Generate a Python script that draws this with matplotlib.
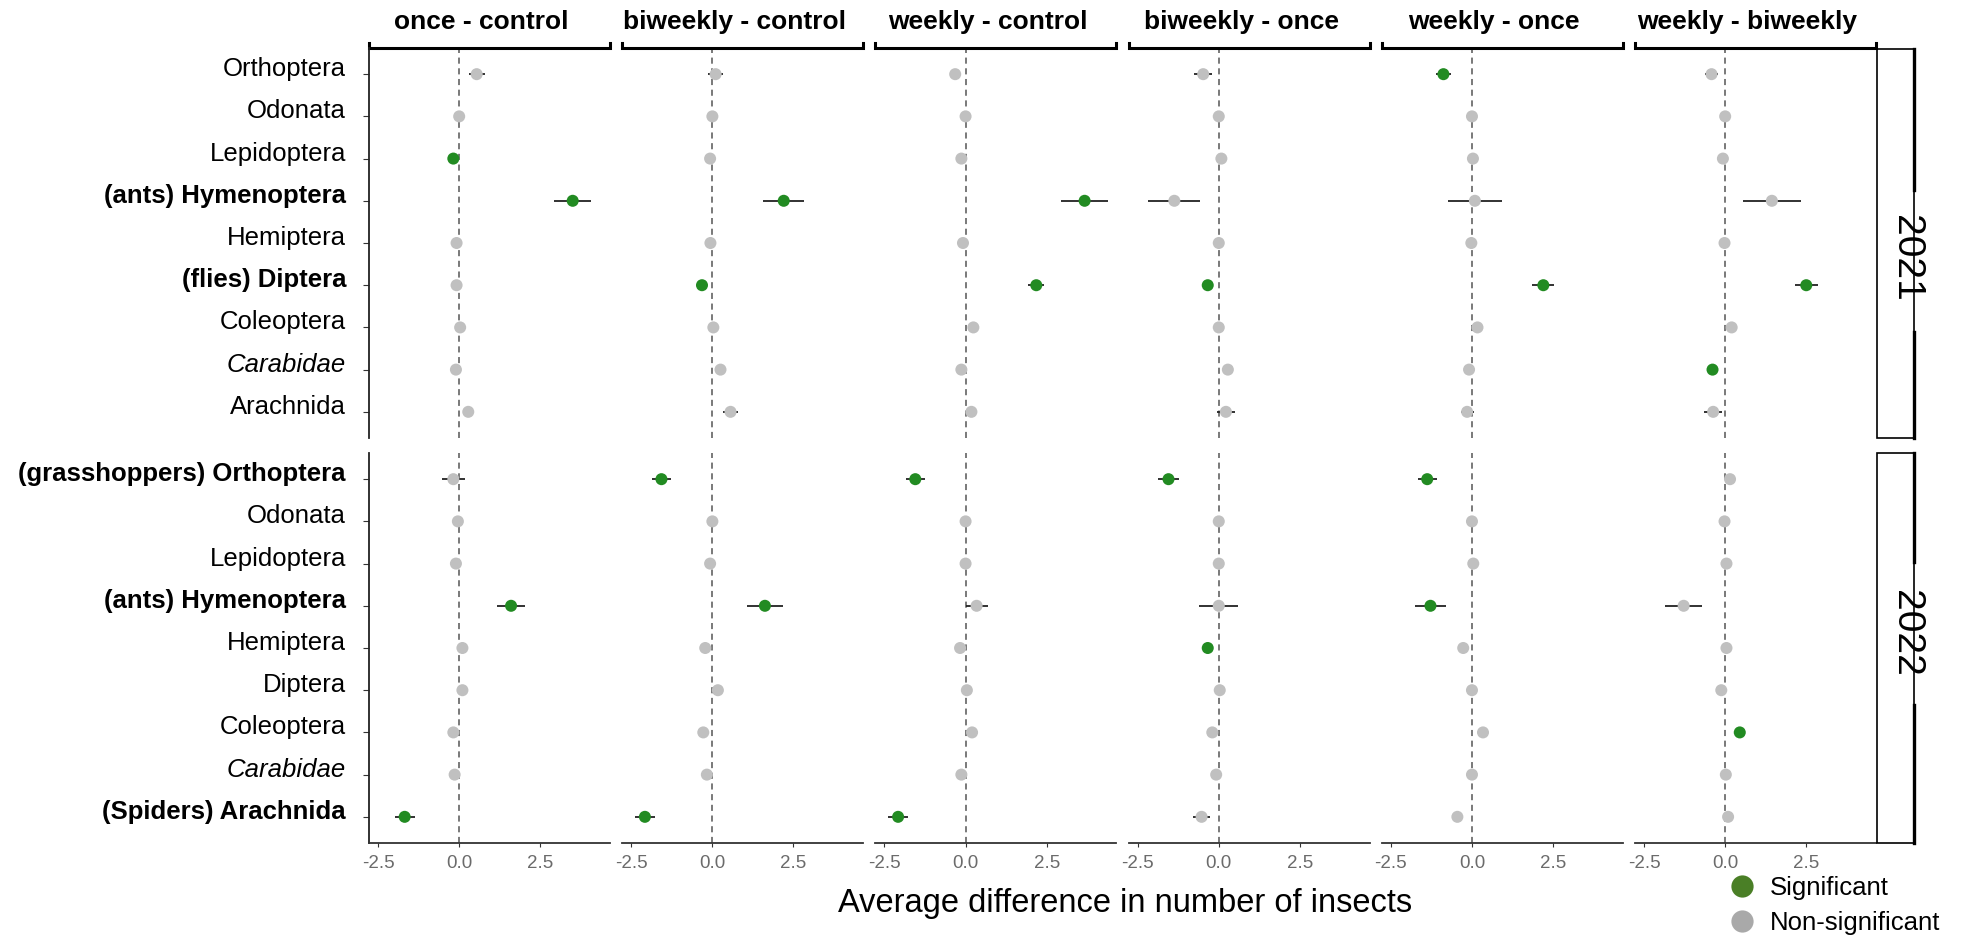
import matplotlib.pyplot as plt
from matplotlib.lines import Line2D
from matplotlib.patches import Rectangle

plt.rcParams['font.family'] = ['Liberation Sans', 'DejaVu Sans']

W, H = 1977, 940

comparisons = ["once - control", "biweekly - control", "weekly - control",
               "biweekly - once", "weekly - once", "weekly - biweekly"]
years = ["2021", "2022"]

labels_2021 = ["Orthoptera", "Odonata", "Lepidoptera", "(ants) Hymenoptera", "Hemiptera",
               "(flies) Diptera", "Coleoptera", "Carabidae", "Arachnida"]
labels_2022 = ["(grasshoppers) Orthoptera", "Odonata", "Lepidoptera", "(ants) Hymenoptera",
               "Hemiptera", "Diptera", "Coleoptera", "Carabidae", "(Spiders) Arachnida"]
bold_2021 = [3, 5]
bold_2022 = [0, 3, 8]
italic_rows = [7]

# estimates, one list per comparison (rows in label order)
est_2021 = [
    [0.54, 0.0, -0.18, 3.5, -0.08, -0.08, 0.03, -0.1, 0.28],
    [0.1, 0.0, -0.07, 2.2, -0.06, -0.32, 0.03, 0.25, 0.56],
    [-0.32, 0.0, -0.13, 3.67, -0.08, 2.18, 0.24, -0.13, 0.18],
    [-0.48, 0.0, 0.08, -1.37, 0.0, -0.34, 0.0, 0.28, 0.22],
    [-0.88, 0.0, 0.03, 0.09, -0.02, 2.2, 0.17, -0.09, -0.15],
    [-0.42, 0.0, -0.07, 1.44, -0.02, 2.5, 0.2, -0.39, -0.37],
]
err_2021 = [
    [0.25, 0.05, 0.05, 0.57, 0.05, 0.05, 0.05, 0.05, 0.1],
    [0.24, 0.05, 0.05, 0.63, 0.05, 0.08, 0.05, 0.05, 0.23],
    [0.05, 0.05, 0.05, 0.73, 0.05, 0.25, 0.05, 0.05, 0.05],
    [0.28, 0.05, 0.05, 0.8, 0.05, 0.05, 0.05, 0.05, 0.27],
    [0.23, 0.05, 0.05, 0.83, 0.05, 0.34, 0.05, 0.05, 0.2],
    [0.2, 0.05, 0.05, 0.9, 0.05, 0.36, 0.05, 0.05, 0.27],
]
sig_2021 = [
    [0, 0, 1, 1, 0, 0, 0, 0, 0],
    [0, 0, 0, 1, 0, 1, 0, 0, 0],
    [0, 0, 0, 1, 0, 1, 0, 0, 0],
    [0, 0, 0, 0, 0, 1, 0, 0, 0],
    [1, 0, 0, 0, 0, 1, 0, 0, 0],
    [0, 0, 0, 0, 0, 1, 0, 1, 0],
]

est_2022 = [
    [-0.18, -0.04, -0.1, 1.6, 0.1, 0.1, -0.18, -0.14, -1.68],
    [-1.57, 0.0, -0.07, 1.62, -0.22, 0.17, -0.28, -0.17, -2.08],
    [-1.55, 0.0, 0.0, 0.34, -0.17, 0.04, 0.2, -0.13, -2.08],
    [-1.55, 0.0, 0.0, 0.0, -0.34, 0.03, -0.2, -0.08, -0.53],
    [-1.38, 0.0, 0.04, -1.28, -0.27, 0.0, 0.34, 0.0, -0.45],
    [0.15, -0.02, 0.04, -1.28, 0.04, -0.12, 0.45, 0.02, 0.09],
]
err_2022 = [
    [0.35, 0.05, 0.05, 0.42, 0.05, 0.05, 0.05, 0.05, 0.31],
    [0.3, 0.05, 0.05, 0.55, 0.05, 0.05, 0.05, 0.05, 0.3],
    [0.3, 0.05, 0.05, 0.34, 0.05, 0.05, 0.05, 0.05, 0.3],
    [0.31, 0.05, 0.05, 0.6, 0.05, 0.05, 0.05, 0.05, 0.25],
    [0.29, 0.05, 0.05, 0.48, 0.05, 0.05, 0.05, 0.05, 0.05],
    [0.05, 0.05, 0.05, 0.58, 0.05, 0.05, 0.05, 0.05, 0.05],
]
sig_2022 = [
    [0, 0, 0, 1, 0, 0, 0, 0, 1],
    [1, 0, 0, 1, 0, 0, 0, 0, 1],
    [1, 0, 0, 0, 0, 0, 0, 0, 1],
    [1, 0, 0, 0, 1, 0, 0, 0, 0],
    [1, 0, 0, 1, 0, 0, 0, 0, 0],
    [0, 0, 0, 0, 0, 0, 1, 0, 0],
]

GREEN = "#228b22"
GREY = "#c0c0c0"


def box(left, top, w, h):
    return [left / W, 1 - (top + h) / H, w / W, h / H]


fig = plt.figure(figsize=(W / 100, H / 100), dpi=100)

rows = [
    (labels_2021, bold_2021, est_2021, err_2021, sig_2021, 48),
    (labels_2022, bold_2022, est_2022, err_2022, sig_2022, 453),
]
panel_w, panel_h = 241, 390
row_px = panel_h / 9.24

for r, (labels, bolds, est, err, sig, top) in enumerate(rows):
    ypos = list(range(len(labels)))
    for c, comp in enumerate(comparisons):
        ax = fig.add_axes(box(369 + c * 253.2, top, panel_w, panel_h))
        ax.set_xlim(-2.78, 4.65)
        ax.set_ylim(8.62, -0.62)
        for s in ax.spines.values():
            s.set_visible(False)
        ax.axvline(0, ls=(0, (4, 3)), color="#555555", lw=1.1, zorder=1)
        ax.errorbar(est[c], ypos, xerr=err[c], fmt="none", ecolor="#222222",
                    elinewidth=1.3, capsize=0, zorder=2)
        cols = [GREEN if v else GREY for v in sig[c]]
        ax.scatter(est[c], ypos, c=cols, s=75, edgecolors="none", zorder=3)

        if c == 0:
            ax.spines["left"].set_visible(True)
            ax.spines["left"].set_color("#222222")
            ax.spines["left"].set_linewidth(1.3)
            ax.set_yticks(ypos)
            ax.set_yticklabels([])
            ax.tick_params(axis="y", length=4, color="#333333")
            for i, lab in enumerate(labels):
                ax.text(-23 / panel_w, i - 5 / row_px, lab,
                        transform=ax.get_yaxis_transform(), ha="right", va="center",
                        fontsize=18.5,
                        fontweight="bold" if i in bolds else "normal",
                        fontstyle="italic" if i in italic_rows else "normal")
        else:
            ax.set_yticks([])

        if r == 1:
            ax.spines["bottom"].set_visible(True)
            ax.spines["bottom"].set_color("#333333")
            ax.spines["bottom"].set_linewidth(1.3)
            ax.set_xticks([-2.5, 0, 2.5])
            ax.set_xticklabels(["-2.5", "0.0", "2.5"])
            ax.tick_params(axis="x", length=3, pad=6, labelsize=13.5,
                           labelcolor="#6b6b6b", color="#333333")
        else:
            ax.set_xticks([])
            # strip bracket and title
            up = 5 / panel_h
            ax.plot([0, 0, 1, 1], [1 + up, 1, 1, 1 + up], transform=ax.transAxes,
                    color="black", lw=2.2, clip_on=False, solid_joinstyle="miter")
            ax.text(0.5 - 8 / panel_w, 1 + 19 / panel_h, comp, transform=ax.transAxes,
                    ha="center", va="baseline", fontsize=19, fontweight="bold")

# year strips on the right
year_strips = [("2021", 49, 438, 190, 332, 258), ("2022", 453, 843, 562, 705, 633)]
for label, y0, y1, g0, g1, ty in year_strips:
    fig.add_artist(Rectangle((1877 / W, 1 - y1 / H), 37 / W, (y1 - y0) / H,
                             transform=fig.transFigure, fill=False,
                             edgecolor="black", lw=1.2))
    fig.add_artist(Line2D([1914 / W, 1914 / W], [1 - y0 / H, 1 - g0 / H],
                          transform=fig.transFigure, color="black", lw=2.4))
    fig.add_artist(Line2D([1914 / W, 1914 / W], [1 - g1 / H, 1 - y1 / H],
                          transform=fig.transFigure, color="black", lw=2.4))
    fig.text(1906 / W, 1 - ty / H, label, rotation=270, ha="center", va="center",
             fontsize=28)

fig.text(1125 / W, 1 - 912 / H, "Average difference in number of insects",
         ha="center", va="baseline", fontsize=23.5)

handles = [
    Line2D([], [], ls="none", marker="o", ms=16, color="#4a7f26", mec="none"),
    Line2D([], [], ls="none", marker="o", ms=16, color="#a9a9a9", mec="none"),
]
fig.legend(handles, ["Significant", "Non-significant"], loc="upper left",
           bbox_to_anchor=(1716 / W, 1 - 863 / H), frameon=False, fontsize=18.5,
           borderpad=0, handlelength=1.0, handletextpad=0.6, labelspacing=0.45)

fig.savefig("out.png", dpi=100, facecolor="white")
